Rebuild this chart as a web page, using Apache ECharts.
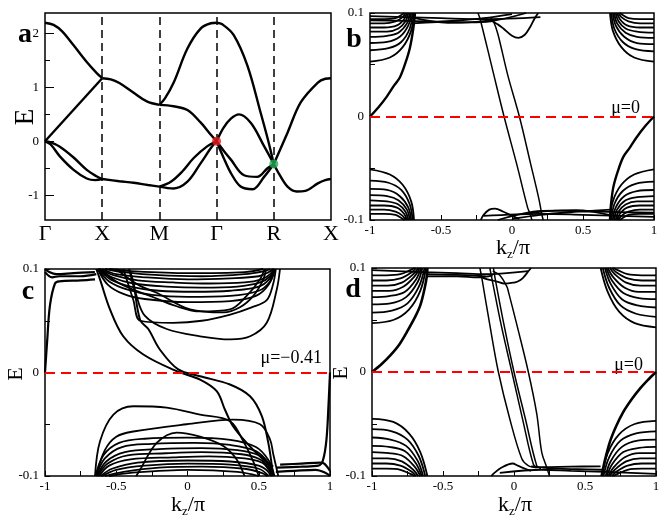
<!DOCTYPE html>
<html><head><meta charset="utf-8">
<script src="https://cdn.jsdelivr.net/npm/echarts@6/dist/echarts.min.js"></script>
<style>html,body{margin:0;padding:0;background:#fff}#c{width:667px;height:521px}</style>
</head><body><div id="c"></div>
<script>
// ---------- Panel a : bulk band structure ----------
const aTickLabels = ['Γ','X','M','Γ','R','X'];
const aYLabels = [-1, 0, 1, 2];
const aYMinor = [-1, -0.5, 0, 0.5, 1, 1.5, 2];
const aDashX = [1, 2, 3, 4];
const aRedDot = [[3, 0]];
const aGreenDot = [[4, -0.42]];
const aGX = [
  [[0,2.2],[0.15,2.16],[0.3,2.04],[0.5,1.78],[0.73,1.47],[0.9,1.27],[1,1.17]],
  [[0,0],[1,1.17]],
  [[0,0],[0.1,-0.06],[0.26,-0.28],[0.5,-0.53],[0.73,-0.69],[0.88,-0.72],[1,-0.7]],
  [[0,0],[0.1,-0.02],[0.26,-0.1],[0.5,-0.3],[0.73,-0.53],[0.9,-0.65],[1,-0.7]]
];
const aXM = [
  [[1,1.17],[1.15,1.15],[1.3,1.08],[1.55,0.9],[1.78,0.74],[2,0.675]],
  [[1,-0.7],[1.3,-0.74],[1.55,-0.77],[1.8,-0.81],[2,-0.84]]
];
const aMG = [
  [[2,0.675],[2.25,0.65],[2.49,0.58],[2.72,0.35],[2.9,0.12],[3,0]],
  [[2,0.675],[2.1,0.8],[2.25,1.09],[2.49,1.72],[2.72,2.09],[2.9,2.19],[3,2.2]],
  [[2,-0.84],[2.25,-0.875],[2.49,-0.75],[2.72,-0.41],[2.9,-0.125],[3,0]],
  [[2,-0.84],[2.2,-0.75],[2.4,-0.56],[2.6,-0.31],[2.84,-0.09],[3,0]]
];
const aGR = [
  [[3,2.2],[3.1,2.17],[3.3,1.97],[3.54,1.4],[3.77,0.53],[3.9,0.02],[4,-0.42]],
  [[3,0],[3.12,0.25],[3.25,0.42],[3.39,0.5],[3.6,0.34],[3.83,-0.09],[4,-0.42]],
  [[3,0],[3.12,-0.17],[3.25,-0.34],[3.48,-0.63],[3.71,-0.66],[3.89,-0.5],[4,-0.42]],
  [[3,0],[3.12,-0.3],[3.25,-0.59],[3.42,-0.84],[3.63,-0.89],[3.83,-0.66],[4,-0.42]]
];
const aRX = [
  [[4,-0.42],[4.24,0.16],[4.47,0.72],[4.77,1.09],[4.9,1.16],[5,1.17]],
  [[4,-0.42],[4.1,-0.62],[4.24,-0.84],[4.4,-0.93],[4.55,-0.92],[4.77,-0.78],[4.9,-0.72],[5,-0.7]]
];

// ---------- Panel b : slab, mu = 0 ----------
const bSurface = [
  [[-1,0],[-0.94,0.009],[-0.883,0.019],[-0.83,0.03],[-0.789,0.038],[-0.75,0.052],[-0.718,0.067],[-0.695,0.085],[-0.683,0.1]],
  [[1,0],[0.94,-0.009],[0.878,-0.02],[0.83,-0.03],[0.784,-0.039],[0.745,-0.053],[0.714,-0.068],[0.697,-0.085],[0.69,-0.1]]
];
const bChiral = [
  [[-0.24,0.1],[-0.225,0.0945],[-0.14,0.047],[-0.056,0],[0.035,-0.047],[0.11,-0.088],[0.127,-0.094],[0.14,-0.1]],
  [[-0.15,0.095],[-0.131,0.092],[-0.1,0.08],[-0.03,0.04],[0.052,0],[0.13,-0.045],[0.19,-0.08],[0.209,-0.094],[0.22,-0.1]]
];
const bTopLeft = [
  [[-1,0.053],[-0.86,0.057],[-0.77,0.067],[-0.71,0.083],[-0.69,0.1]],
  [[-1,0.064],[-0.87,0.066],[-0.78,0.072],[-0.72,0.085],[-0.7,0.1]],
  [[-1,0.071],[-0.88,0.072],[-0.79,0.077],[-0.73,0.088],[-0.71,0.1]],
  [[-1,0.077],[-0.88,0.078],[-0.8,0.081],[-0.74,0.09],[-0.72,0.1]],
  [[-1,0.082],[-0.88,0.082],[-0.8,0.085],[-0.75,0.092],[-0.73,0.1]],
  [[-1,0.086],[-0.9,0.086],[-0.81,0.088],[-0.76,0.094],[-0.74,0.1]],
  [[-1,0.09],[-0.9,0.09],[-0.82,0.092],[-0.77,0.096],[-0.75,0.1]],
  [[-1,0.094],[-0.9,0.094],[-0.82,0.095],[-0.78,0.098],[-0.76,0.1]]
];
const bTopRight = [
  [[1,0.053],[0.86,0.057],[0.77,0.067],[0.71,0.083],[0.69,0.1]],
  [[1,0.063],[0.87,0.065],[0.78,0.072],[0.72,0.085],[0.7,0.1]],
  [[1,0.07],[0.88,0.071],[0.79,0.077],[0.73,0.088],[0.71,0.1]],
  [[1,0.076],[0.88,0.077],[0.8,0.081],[0.74,0.09],[0.72,0.1]],
  [[1,0.081],[0.88,0.082],[0.8,0.085],[0.75,0.092],[0.73,0.1]],
  [[1,0.086],[0.9,0.086],[0.81,0.088],[0.76,0.094],[0.74,0.1]],
  [[1,0.09],[0.9,0.09],[0.82,0.092],[0.77,0.096],[0.75,0.1]],
  [[1,0.094],[0.9,0.094],[0.82,0.095],[0.78,0.098],[0.76,0.1]]
];
const bBottomLeft = [
  [[-1,-0.051],[-0.86,-0.056],[-0.77,-0.066],[-0.71,-0.082],[-0.69,-0.1]],
  [[-1,-0.062],[-0.87,-0.064],[-0.78,-0.071],[-0.72,-0.085],[-0.7,-0.1]],
  [[-1,-0.07],[-0.88,-0.071],[-0.79,-0.077],[-0.73,-0.088],[-0.71,-0.1]],
  [[-1,-0.076],[-0.88,-0.077],[-0.8,-0.081],[-0.74,-0.09],[-0.72,-0.1]],
  [[-1,-0.081],[-0.88,-0.082],[-0.8,-0.085],[-0.75,-0.092],[-0.73,-0.1]],
  [[-1,-0.086],[-0.9,-0.086],[-0.81,-0.088],[-0.76,-0.094],[-0.74,-0.1]],
  [[-1,-0.09],[-0.9,-0.09],[-0.82,-0.092],[-0.77,-0.096],[-0.75,-0.1]],
  [[-1,-0.094],[-0.9,-0.094],[-0.82,-0.095],[-0.78,-0.098],[-0.76,-0.1]]
];
const bBottomRight = [
  [[1,-0.051],[0.86,-0.056],[0.77,-0.066],[0.71,-0.082],[0.69,-0.1]],
  [[1,-0.063],[0.87,-0.065],[0.78,-0.072],[0.72,-0.085],[0.7,-0.1]],
  [[1,-0.071],[0.88,-0.072],[0.79,-0.077],[0.73,-0.088],[0.71,-0.1]],
  [[1,-0.077],[0.88,-0.078],[0.8,-0.081],[0.74,-0.09],[0.72,-0.1]],
  [[1,-0.082],[0.88,-0.082],[0.8,-0.085],[0.75,-0.092],[0.73,-0.1]],
  [[1,-0.086],[0.9,-0.086],[0.81,-0.088],[0.76,-0.094],[0.74,-0.1]],
  [[1,-0.09],[0.9,-0.09],[0.82,-0.092],[0.77,-0.096],[0.75,-0.1]],
  [[1,-0.094],[0.9,-0.094],[0.82,-0.095],[0.78,-0.098],[0.76,-0.1]]
];
const bFlats = [
  [[-1,0.097],[-0.5,0.095],[-0.2,0.094],[0.2,0.096]],
  [[-1,0.093],[-0.6,0.092],[-0.3,0.091],[-0.15,0.092],[0.1,0.1]],
  [[-0.7,0.09],[-0.4,0.0925],[-0.2,0.095],[0,0.099]],
  [[-0.7,0.0955],[-0.45,0.0905],[-0.25,0.0915],[-0.1,0.094]],
  [[-0.2,0.094],[-0.155,0.093],[-0.1,0.089],[-0.061,0.085],[0,0.078],[0.045,0.076],[0.09,0.079],[0.13,0.087],[0.16,0.095],[0.185,0.1]],
  [[1,-0.097],[0.5,-0.095],[0.2,-0.094],[-0.2,-0.096]],
  [[1,-0.093],[0.6,-0.092],[0.3,-0.091],[0.15,-0.092],[-0.1,-0.1]],
  [[0.7,-0.09],[0.4,-0.0925],[0.2,-0.095],[0,-0.099]],
  [[0.7,-0.0955],[0.45,-0.0905],[0.25,-0.0915],[0.1,-0.094]],
  [[-0.22,-0.1],[-0.2,-0.095],[-0.16,-0.09],[-0.12,-0.089],[-0.06,-0.092],[0,-0.096],[0.05,-0.099]]
];

// ---------- Panel c : slab, mu = -0.41 ----------
const cEdges = [
  [[-1,0],[-0.985,0.03],[-0.965,0.065],[-0.93,0.086],[-0.9,0.088],[-0.75,0.089],[-0.649,0.09]],
  [[-1,0.1],[-0.97,0.097],[-0.92,0.095],[-0.8,0.096],[-0.65,0.097]],
  [[-1,0.097],[-0.95,0.092],[-0.9,0.093],[-0.75,0.093],[-0.64,0.095]],
  [[1,0],[0.99,-0.03],[0.975,-0.065],[0.95,-0.085],[0.918,-0.09],[0.8,-0.091],[0.626,-0.092]],
  [[1,-0.1],[0.97,-0.097],[0.9,-0.094],[0.75,-0.095],[0.62,-0.096]],
  [[1,-0.095],[0.96,-0.088],[0.93,-0.087],[0.8,-0.088],[0.65,-0.089]]
];
const cChiral = [
  [[-0.64,0.1],[-0.614,0.09],[-0.544,0.061],[-0.451,0.035],[-0.31,0.0174],[-0.076,0.0013],[0.088,-0.0068],[0.205,-0.018],[0.263,-0.036],[0.32,-0.052],[0.415,-0.068],[0.532,-0.084],[0.602,-0.091]],
  [[-0.41,0.1],[-0.38,0.087],[-0.333,0.051],[-0.275,0.042],[-0.193,0.022],[-0.065,0.003],[0.088,-0.0036],[0.298,-0.0116],[0.439,-0.023],[0.521,-0.042],[0.567,-0.068],[0.591,-0.089],[0.6,-0.1]]
];
const cUpper = [
  [[-0.41,0.1],[-0.36,0.075],[-0.3,0.055],[-0.146,0.042],[0.088,0.035],[0.3,0.032],[0.44,0.035],[0.556,0.048],[0.626,0.08],[0.649,0.1]],
  [[-0.45,0.1],[-0.38,0.07],[-0.33,0.05],[-0.1,0.048],[0.1,0.05],[0.3,0.056],[0.45,0.063],[0.556,0.07],[0.6,0.085],[0.62,0.1]],
  [[-0.62,0.1],[-0.5,0.088],[-0.38,0.08],[-0.263,0.074],[-0.076,0.064],[0.088,0.059],[0.298,0.061],[0.415,0.074],[0.509,0.09],[0.54,0.1]],
  [[-0.5,0.1],[-0.35,0.085],[-0.216,0.077],[0.018,0.061],[0.251,0.058],[0.368,0.063],[0.462,0.074],[0.532,0.09],[0.55,0.1]],
  [[-0.63,0.1],[-0.56,0.085],[-0.45,0.076],[-0.3,0.071],[0,0.068],[0.3,0.069],[0.48,0.074],[0.57,0.085],[0.61,0.1]],
  [[-0.63,0.1],[-0.55,0.088],[-0.42,0.08],[-0.25,0.075],[0,0.073],[0.3,0.074],[0.5,0.079],[0.58,0.088],[0.615,0.1]],
  [[-0.625,0.1],[-0.54,0.09],[-0.4,0.083],[-0.2,0.079],[0.05,0.078],[0.3,0.079],[0.5,0.083],[0.58,0.091],[0.612,0.1]],
  [[-0.62,0.1],[-0.53,0.092],[-0.38,0.086],[-0.15,0.083],[0.1,0.082],[0.35,0.083],[0.51,0.087],[0.58,0.093],[0.61,0.1]],
  [[-0.615,0.1],[-0.52,0.094],[-0.35,0.089],[-0.1,0.087],[0.15,0.086],[0.4,0.087],[0.52,0.09],[0.58,0.095],[0.605,0.1]],
  [[-0.6,0.1],[-0.5,0.095],[-0.3,0.092],[0,0.09],[0.3,0.091],[0.5,0.093],[0.57,0.097],[0.6,0.1]],
  [[-0.58,0.1],[-0.45,0.097],[-0.2,0.094],[0.1,0.093],[0.4,0.095],[0.54,0.098],[0.58,0.1]],
  [[-0.55,0.1],[-0.4,0.098],[0,0.096],[0.4,0.097],[0.53,0.1]]
];
const cLower = [
  [[-0.649,-0.1],[-0.614,-0.0665],[-0.52,-0.0407],[-0.38,-0.0326],[-0.146,-0.034],[0.088,-0.0407],[0.298,-0.047],[0.392,-0.0665],[0.462,-0.086],[0.5,-0.1]],
  [[-0.64,-0.1],[-0.58,-0.075],[-0.5,-0.062],[-0.38,-0.057],[-0.006,-0.05],[0.32,-0.0455],[0.509,-0.05],[0.58,-0.065],[0.602,-0.079],[0.637,-0.1]],
  [[-0.36,-0.1],[-0.333,-0.094],[-0.216,-0.068],[-0.076,-0.058],[0.088,-0.062],[0.251,-0.071],[0.345,-0.084],[0.4,-0.1]],
  [[-0.645,-0.1],[-0.59,-0.08],[-0.48,-0.068],[-0.3,-0.064],[0,-0.063],[0.3,-0.065],[0.48,-0.072],[0.57,-0.085],[0.61,-0.1]],
  [[-0.64,-0.1],[-0.58,-0.083],[-0.46,-0.072],[-0.25,-0.069],[0.05,-0.068],[0.3,-0.07],[0.48,-0.076],[0.57,-0.088],[0.605,-0.1]],
  [[-0.635,-0.1],[-0.57,-0.086],[-0.44,-0.077],[-0.2,-0.074],[0.1,-0.073],[0.35,-0.075],[0.5,-0.08],[0.57,-0.09],[0.6,-0.1]],
  [[-0.63,-0.1],[-0.56,-0.088],[-0.42,-0.08],[-0.15,-0.078],[0.1,-0.077],[0.38,-0.079],[0.51,-0.084],[0.57,-0.092],[0.595,-0.1]],
  [[-0.62,-0.1],[-0.55,-0.09],[-0.4,-0.084],[-0.1,-0.082],[0.15,-0.081],[0.4,-0.083],[0.52,-0.087],[0.57,-0.094],[0.59,-0.1]],
  [[-0.61,-0.1],[-0.53,-0.093],[-0.35,-0.087],[0,-0.085],[0.3,-0.086],[0.5,-0.09],[0.56,-0.095],[0.585,-0.1]],
  [[-0.6,-0.1],[-0.5,-0.094],[-0.3,-0.09],[0,-0.088],[0.3,-0.089],[0.5,-0.093],[0.57,-0.1]],
  [[-0.58,-0.1],[-0.45,-0.096],[-0.2,-0.092],[0.1,-0.091],[0.4,-0.093],[0.52,-0.097],[0.56,-0.1]],
  [[-0.55,-0.1],[-0.4,-0.097],[0,-0.094],[0.35,-0.096],[0.5,-0.1]]
];

// ---------- Panel d : slab, mu = 0 ----------
const dSurface = [
  [[-1,0],[-0.93,0.008],[-0.871,0.016],[-0.81,0.026],[-0.754,0.0386],[-0.7,0.052],[-0.66,0.064],[-0.63,0.08],[-0.613,0.093],[-0.61,0.1]],
  [[1,0],[0.94,-0.008],[0.887,-0.016],[0.83,-0.026],[0.769,-0.0386],[0.72,-0.052],[0.676,-0.067],[0.64,-0.085],[0.617,-0.1]]
];
const dChiral = [
  [[-0.24,0.1],[-0.226,0.09],[-0.17,0.045],[-0.11,0],[-0.03,-0.045],[0.055,-0.0835],[0.1,-0.09],[0.16,-0.092]],
  [[-0.17,0.1],[-0.156,0.09],[-0.09,0.045],[-0.015,0],[0.06,-0.045],[0.137,-0.089],[0.17,-0.092]],
  [[-0.145,0.1],[-0.133,0.09],[-0.07,0.045],[0,0],[0.08,-0.045],[0.16,-0.09],[0.19,-0.093]],
  [[-0.15,0.097],[-0.1,0.093],[-0.05,0.082],[-0.039,0.077],[0.03,0.04],[0.101,0],[0.16,-0.04],[0.195,-0.077],[0.23,-0.0916],[0.25,-0.1]]
];
const dTopLeft = [
  [[-1,0.047],[-0.85,0.05],[-0.74,0.06],[-0.66,0.078],[-0.62,0.1]],
  [[-1,0.057],[-0.86,0.059],[-0.75,0.066],[-0.67,0.082],[-0.63,0.1]],
  [[-1,0.065],[-0.87,0.066],[-0.76,0.072],[-0.68,0.086],[-0.645,0.1]],
  [[-1,0.072],[-0.88,0.073],[-0.77,0.077],[-0.69,0.089],[-0.655,0.1]],
  [[-1,0.078],[-0.88,0.078],[-0.78,0.082],[-0.7,0.092],[-0.665,0.1]],
  [[-1,0.083],[-0.89,0.083],[-0.79,0.086],[-0.71,0.094],[-0.675,0.1]],
  [[-1,0.088],[-0.9,0.088],[-0.8,0.09],[-0.72,0.096],[-0.69,0.1]],
  [[-1,0.093],[-0.9,0.093],[-0.8,0.094],[-0.73,0.098],[-0.7,0.1]]
];
const dTopRight = [
  [[1,0.043],[0.85,0.047],[0.74,0.058],[0.66,0.077],[0.61,0.1]],
  [[1,0.053],[0.86,0.056],[0.75,0.064],[0.67,0.081],[0.625,0.1]],
  [[1,0.062],[0.87,0.064],[0.76,0.07],[0.68,0.085],[0.64,0.1]],
  [[1,0.07],[0.88,0.071],[0.77,0.076],[0.69,0.088],[0.65,0.1]],
  [[1,0.077],[0.88,0.077],[0.78,0.081],[0.7,0.091],[0.66,0.1]],
  [[1,0.083],[0.89,0.083],[0.79,0.086],[0.71,0.094],[0.675,0.1]],
  [[1,0.088],[0.9,0.088],[0.8,0.09],[0.72,0.096],[0.69,0.1]],
  [[1,0.093],[0.9,0.093],[0.8,0.094],[0.73,0.098],[0.7,0.1]]
];
const dBottomLeft = [
  [[-1,-0.045],[-0.85,-0.048],[-0.74,-0.059],[-0.66,-0.077],[-0.61,-0.1]],
  [[-1,-0.055],[-0.86,-0.057],[-0.75,-0.065],[-0.67,-0.081],[-0.625,-0.1]],
  [[-1,-0.063],[-0.87,-0.065],[-0.76,-0.071],[-0.68,-0.085],[-0.64,-0.1]],
  [[-1,-0.071],[-0.88,-0.072],[-0.77,-0.076],[-0.69,-0.088],[-0.65,-0.1]],
  [[-1,-0.077],[-0.88,-0.078],[-0.78,-0.081],[-0.7,-0.091],[-0.66,-0.1]],
  [[-1,-0.083],[-0.89,-0.083],[-0.79,-0.086],[-0.71,-0.094],[-0.675,-0.1]],
  [[-1,-0.088],[-0.9,-0.088],[-0.8,-0.09],[-0.72,-0.096],[-0.69,-0.1]],
  [[-1,-0.093],[-0.9,-0.093],[-0.8,-0.094],[-0.73,-0.098],[-0.7,-0.1]]
];
const dBottomRight = [
  [[1,-0.047],[0.85,-0.05],[0.74,-0.06],[0.66,-0.078],[0.62,-0.1]],
  [[1,-0.057],[0.86,-0.059],[0.75,-0.066],[0.67,-0.082],[0.63,-0.1]],
  [[1,-0.065],[0.87,-0.066],[0.76,-0.072],[0.68,-0.086],[0.645,-0.1]],
  [[1,-0.072],[0.88,-0.073],[0.77,-0.077],[0.69,-0.089],[0.655,-0.1]],
  [[1,-0.078],[0.88,-0.078],[0.78,-0.082],[0.7,-0.092],[0.665,-0.1]],
  [[1,-0.083],[0.89,-0.083],[0.79,-0.086],[0.71,-0.094],[0.675,-0.1]],
  [[1,-0.088],[0.9,-0.088],[0.8,-0.09],[0.72,-0.096],[0.69,-0.1]],
  [[1,-0.093],[0.9,-0.093],[0.8,-0.094],[0.73,-0.098],[0.7,-0.1]]
];
const dFlats = [
  [[-1,0.098],[-0.64,0.096],[-0.4,0.095],[-0.2,0.094],[0.1,0.097]],
  [[-0.62,0.092],[-0.4,0.092],[-0.25,0.091],[-0.15,0.093]],
  [[-0.62,0.094],[-0.45,0.0935],[-0.3,0.093],[-0.2,0.092]],
  [[-0.25,0.093],[-0.21,0.09],[-0.12,0.087],[-0.068,0.085],[0.0,0.086],[0.026,0.087],[0.06,0.09],[0.096,0.096],[0.12,0.1]],
  [[1,-0.098],[0.64,-0.096],[0.4,-0.095],[0.2,-0.094],[-0.1,-0.097]],
  [[0.61,-0.0907],[0.4,-0.091],[0.2,-0.0915],[0.12,-0.0907]],
  [[0.62,-0.094],[0.45,-0.0935],[0.3,-0.093],[0.2,-0.092]],
  [[-0.16,-0.1],[-0.138,-0.097],[-0.09,-0.092],[-0.009,-0.088],[0.026,-0.09],[0.08,-0.093],[0.12,-0.095]]
];

// ---------- build ----------
const serif = "'Liberation Serif','DejaVu Serif',serif";
function curves(list, gi, width) {
  return list.map(c => ({
    type: 'line', xAxisIndex: gi, yAxisIndex: gi, data: c, smooth: 0.35,
    showSymbol: false, silent: true, animation: false,
    lineStyle: { color: '#000', width: width }
  }));
}
function kLabel(v) { return Math.abs(v * 2 - Math.round(v * 2)) < 1e-9 ? String(+v.toFixed(2)) : ''; }
function eLabel(v) { return Math.abs(v * 10 - Math.round(v * 10)) < 1e-9 ? String(+v.toFixed(2)) : ''; }
const grids = [
  { left: 45, top: 13, width: 286, height: 207 },
  { left: 370, top: 13, width: 284, height: 207 },
  { left: 45, top: 269, width: 285, height: 207 },
  { left: 372, top: 268, width: 284, height: 208 }
].map(g => Object.assign(g, { show: true, borderColor: '#000', borderWidth: 1.5, backgroundColor: 'transparent' }));

const noLine = { show: false, onZero: false };
const kX = gi => ({
  type: 'value', gridIndex: gi, min: -1, max: 1, interval: 0.25, position: 'bottom',
  axisLine: noLine, splitLine: { show: false },
  axisTick: { inside: true, length: 5, lineStyle: { color: '#000' } },
  axisLabel: { formatter: kLabel, fontFamily: serif, fontSize: 13, color: '#000', margin: 4, showMinLabel: true, showMaxLabel: true }
});
const eY = gi => ({
  type: 'value', gridIndex: gi, min: -0.1, max: 0.1, interval: 0.05, position: 'left',
  axisLine: noLine, splitLine: { show: false },
  axisTick: { inside: true, length: 5, lineStyle: { color: '#000' } },
  axisLabel: { formatter: eLabel, fontFamily: serif, fontSize: 13, color: '#000', margin: 6, showMinLabel: true, showMaxLabel: true }
});

const muLine = gi => ({
  type: 'line', xAxisIndex: gi, yAxisIndex: gi, data: [], silent: true, animation: false,
  markLine: { symbol: 'none', silent: true, animation: false, label: { show: false },
    lineStyle: { color: '#ff0000', type: [10, 6], width: 2 }, data: [{ yAxis: 0 }] }
});

const series = [].concat(
  curves(aGX, 0, 2.4), curves(aXM, 0, 2.4), curves(aMG, 0, 2.4), curves(aGR, 0, 2.4), curves(aRX, 0, 2.4),
  [{ type: 'line', xAxisIndex: 0, yAxisIndex: 0, data: [], silent: true, animation: false,
     markLine: { symbol: 'none', silent: true, animation: false, label: { show: false },
       lineStyle: { color: '#000', type: [8, 5], width: 1.5 }, data: aDashX.map(x => ({ xAxis: x })) } },
   { type: 'scatter', xAxisIndex: 0, yAxisIndex: 0, data: aRedDot, symbolSize: 9, itemStyle: { color: '#ee1c1c' }, silent: true, animation: false, z: 5 },
   { type: 'scatter', xAxisIndex: 0, yAxisIndex: 0, data: aGreenDot, symbolSize: 9, itemStyle: { color: '#1fae52' }, silent: true, animation: false, z: 5 }],
  curves(bTopLeft, 1, 1.8), curves(bTopRight, 1, 1.8), curves(bBottomLeft, 1, 1.8), curves(bBottomRight, 1, 1.8),
  curves(bFlats, 1, 1.8), curves(bSurface, 1, 2.4), curves(bChiral, 1, 1.5), [muLine(1)],
  curves(cUpper, 2, 1.8), curves(cLower, 2, 1.8), curves(cEdges, 2, 2.2), curves(cChiral, 2, 2), [muLine(2)],
  curves(dTopLeft, 3, 1.8), curves(dTopRight, 3, 1.8), curves(dBottomLeft, 3, 1.8), curves(dBottomRight, 3, 1.8),
  curves(dFlats, 3, 1.8), curves(dSurface, 3, 2.6), curves(dChiral, 3, 1.5), [muLine(3)]
);

const kRich = {
  k: { fontFamily: serif, fontSize: 22, fill: '#000' },
  s: { fontFamily: serif, fontSize: 13, fill: '#000', padding: [14, 0, 0, 0] }
};
function txt(x, y, text, size, opts) {
  return Object.assign({ type: 'text', x: x, y: y, silent: true,
    style: Object.assign({ text: text, fontFamily: serif, fontSize: size, fill: '#000', align: 'center', verticalAlign: 'middle' }, (opts && opts.style) || {}) },
    (opts && opts.el) || {});
}

const option = {
  animation: false,
  backgroundColor: '#fff',
  grid: grids,
  xAxis: [
    { type: 'value', gridIndex: 0, min: 0, max: 5, interval: 1, position: 'bottom', axisLine: noLine, splitLine: { show: false },
      axisTick: { show: false },
      axisLabel: { formatter: v => aTickLabels[Math.round(v)], fontFamily: serif, fontSize: 22, color: '#000', margin: 3, showMinLabel: true, showMaxLabel: true } },
    kX(1), kX(2), kX(3)
  ],
  yAxis: [
    { type: 'value', gridIndex: 0, min: -1.46, max: 2.38, position: 'left', axisLine: noLine, splitLine: { show: false },
      axisTick: { inside: true, length: 9, customValues: aYLabels, lineStyle: { color: '#000' } },
      axisLabel: { customValues: aYLabels, fontFamily: serif, fontSize: 13, color: '#000', margin: 6 } },
    eY(1), eY(2), eY(3),
    { type: 'value', gridIndex: 0, min: -1.46, max: 2.38, position: 'left', offset: 0, axisLine: noLine, splitLine: { show: false },
      axisTick: { inside: true, length: 5, customValues: aYMinor, lineStyle: { color: '#000' } },
      axisLabel: { show: false } }
  ],
  series: series,
  graphic: [
    txt(25, 35, 'a', 28, { style: { fontWeight: 'bold' } }),
    txt(354, 40, 'b', 28, { style: { fontWeight: 'bold' } }),
    txt(28, 292, 'c', 28, { style: { fontWeight: 'bold' } }),
    txt(353, 290, 'd', 28, { style: { fontWeight: 'bold' } }),
    txt(26, 117, 'E', 27, { el: { rotation: Math.PI / 2 } }),
    txt(16, 374, 'E', 22, { el: { rotation: Math.PI / 2 } }),
    txt(341, 373, 'E', 22, { el: { rotation: Math.PI / 2 } }),
    txt(640, 108, 'μ=0', 18, { style: { align: 'right' } }),
    txt(322, 358, 'μ=−0.41', 18, { style: { align: 'right' } }),
    txt(643, 365, 'μ=0', 18, { style: { align: 'right' } }),
    txt(513, 248, '{k|k}{s|z}{k|/π}', 22, { style: { rich: kRich } }),
    txt(188, 505, '{k|k}{s|z}{k|/π}', 22, { style: { rich: kRich } }),
    txt(515, 505, '{k|k}{s|z}{k|/π}', 22, { style: { rich: kRich } })
  ]
};
const chart = echarts.init(document.getElementById('c'), null, { renderer: 'canvas' });
chart.setOption(option);
</script>
</body></html>
